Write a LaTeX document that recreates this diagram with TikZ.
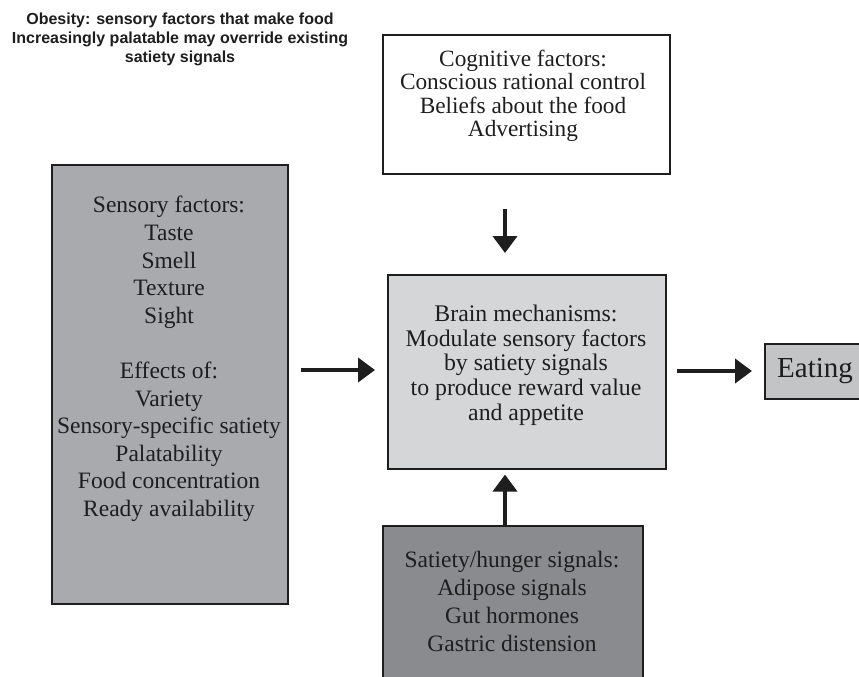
\documentclass[tikz,border=0pt]{standalone}
\usepackage{fontspec}
\setmainfont{Liberation Serif}
\newfontfamily\titlefont{Liberation Sans}
\usetikzlibrary{arrows.meta}
\definecolor{sensgray}{HTML}{A9AAAE}
\definecolor{braingray}{HTML}{D5D6D8}
\definecolor{eatgray}{HTML}{C3C4C6}
\definecolor{satgray}{HTML}{8A8B8E}
\definecolor{inkc}{HTML}{1E1E1E}
\begin{document}
\begin{tikzpicture}[x=1pt,y=-1pt,
  box/.style={draw=inkc, line width=1.6pt, rectangle, anchor=north west, inner sep=0pt},
  txt/.style={align=center, text=inkc, inner sep=0pt},
  arr/.style={draw=inkc, line width=4pt, -{Triangle[length=17pt,width=24pt]}}]
\useasboundingbox (0,0) rectangle (859,677);
\fill[white] (0,0) rectangle (859,677);
% boxes
\node[box, fill=white, minimum width=287pt, minimum height=139pt] (cog) at (382,34) {};
\node[box, fill=sensgray, minimum width=236pt, minimum height=439pt] (sens) at (51,164) {};
\node[box, fill=braingray, minimum width=278pt, minimum height=194pt] (brain) at (387,274) {};
\node[box, fill=eatgray, minimum width=130pt, minimum height=55pt] (eat) at (764,343) {};
\node[box, fill=satgray, minimum width=260pt, minimum height=170pt] (sat) at (382,525) {};
% title
\node[txt, font=\titlefont\bfseries\fontsize{16}{19}\selectfont] (title) at (180,39)
  {Obesity: sensory factors that make food\\
   Increasingly palatable may override existing\\
   satiety signals};
% texts
\node[txt, font=\fontsize{23.3}{23.4}\selectfont] (cogt) at (523,96)
  {Cognitive factors:\\Conscious rational control\\Beliefs about the food\\Advertising};
\node[txt, font=\fontsize{23.5}{27.6}\selectfont] (senst) at (169,359)
  {Sensory factors:\\Taste\\Smell\\Texture\\Sight\\[27.6pt]Effects of:\\Variety\\Sensory-specific satiety\\Palatability\\Food concentration\\Ready availability};
\node[txt, font=\fontsize{23.8}{24.7}\selectfont] (braint) at (526,365)
  {Brain mechanisms:\\Modulate sensory factors\\by satiety signals\\to produce reward value\\and appetite};
\node[txt, font=\fontsize{29}{30}\selectfont, anchor=west] (eatt) at (777,371) {Eating};
\node[txt, font=\fontsize{23.5}{28}\selectfont] (satt) at (512,601)
  {Satiety/hunger signals:\\Adipose signals\\Gut hormones\\Gastric distension};
% arrows
\coordinate (ax) at (505,0);
\coordinate (ay) at (0,370);
\coordinate (ay2) at (0,371);
\draw[arr, shorten <=34pt, shorten >=21pt] (cog.south -| ax) -- (brain.north -| ax);
\draw[arr, shorten <=12pt, shorten >=12pt] (sens.east |- ay) -- (brain.west |- ay);
\draw[arr, shorten <=10pt, shorten >=12pt] (brain.east |- ay2) -- (eat.west |- ay2);
\draw[arr, shorten <=0pt, shorten >=5pt] (sat.north -| ax) -- (brain.south -| ax);
\end{tikzpicture}
\end{document}
